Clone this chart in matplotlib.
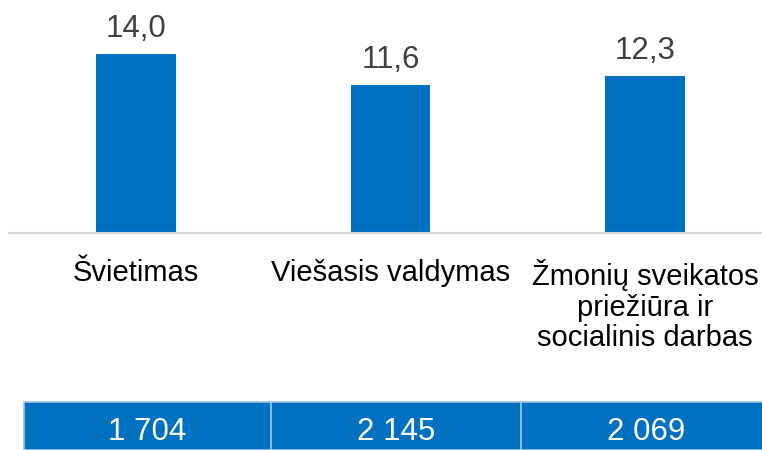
import matplotlib
matplotlib.use("Agg")
import matplotlib.pyplot as plt
from matplotlib.patches import Rectangle

plt.rcParams['font.family'] = ['Liberation Sans', 'DejaVu Sans']

categories = ["Švietimas", "Viešasis valdymas", "Žmonių sveikatos\npriežiūra ir\nsocialinis darbas"]
values = [14.0, 11.6, 12.3]
value_labels = ["14,0", "11,6", "12,3"]
table_values = ["1 704", "2 145", "2 069"]

W, H = 762, 450
fig = plt.figure(figsize=(W / 100, H / 100), dpi=100)

blue = "#0070C0"
# axes: left 9px, right 772px, bottom at y=233px, top at 0
ax = fig.add_axes([9 / W, (H - 233) / H, 763 / W, 233 / H])
x = list(range(len(categories)))
ax.bar(x, values, width=0.314, color=blue)
ax.set_xlim(-0.5, 2.5)
ax.set_ylim(0, 18.25)
for s in ["top", "right", "left"]:
    ax.spines[s].set_visible(False)
ax.spines["bottom"].set_color("#d9d9d9")
ax.spines["bottom"].set_linewidth(1.5)
ax.set_yticks([])
ax.set_xticks(x)
ax.set_xticklabels(categories, fontsize=21, color="#000000", linespacing=1.13)
ax.tick_params(axis="x", length=0, pad=18.5)
for xi, v, lab in zip(x, values, value_labels):
    ax.annotate(lab, (xi, v), xytext=(0, 12.2), textcoords="offset points",
                ha="center", va="baseline", fontsize=22.5, color="#404040")

# table
col_edges = [24, 271, 521, 771]
for i, tv in enumerate(table_values):
    x0, x1 = col_edges[i], col_edges[i + 1]
    fig.patches.append(Rectangle((x0 / W, 0), (x1 - x0) / W, (H - 402) / H,
                                 transform=fig.transFigure, facecolor=blue,
                                 edgecolor="#9dc3e6", linewidth=1.2))
    fig.text((x0 + x1) / 2 / W, (H - 432) / H, tv, ha="center", va="center",
             fontsize=22.5, color="white")

fig.savefig("out.png", dpi=100)
